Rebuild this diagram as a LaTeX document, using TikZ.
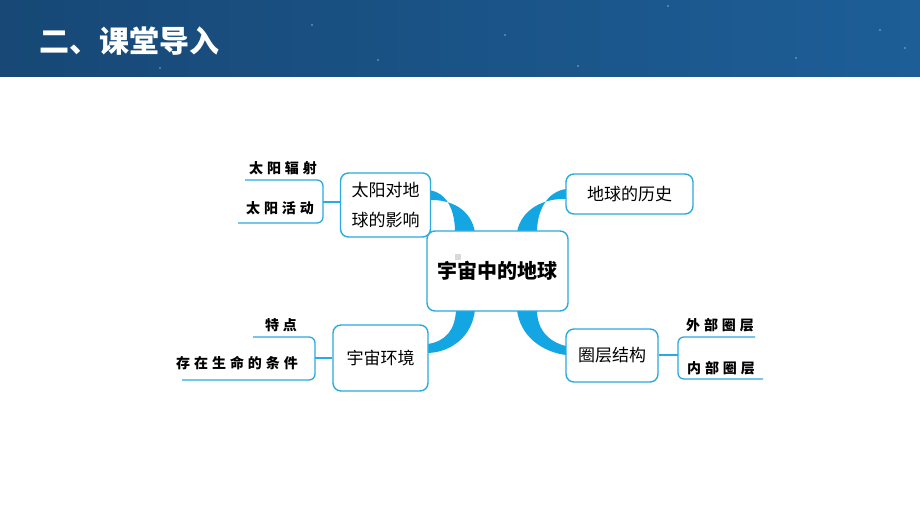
\documentclass[tikz,border=0pt]{standalone}
\usepackage{fontspec}
\newfontfamily\cjk{Noto Sans CJK SC}
\newfontfamily\leaffont[LetterSpace=28]{Noto Sans CJK SC}
\definecolor{hdrL}{HTML}{174876}
\definecolor{hdrR}{HTML}{1D5E97}
\definecolor{cyanline}{HTML}{2AAAE0}
\definecolor{cyanfill}{HTML}{14A6E2}
\begin{document}
\begin{tikzpicture}[x=1pt,y=-1pt,
  box/.style={draw=cyanline, line width=1.4pt, rounded corners=8pt, fill=white,
    inner sep=0pt, align=center, font=\cjk\fontsize{17}{30}\selectfont},
  leaf/.style={inner sep=0pt, font=\leaffont\bfseries\fontsize{14}{16}\selectfont},
  leafline/.style={draw=cyanline, line width=1.3pt, rounded corners=6pt},
  branch/.style={fill=cyanfill, draw=none}]
\useasboundingbox (0,0) rectangle (920,518);
\fill[white] (0,0) rectangle (920,518);
% header
\shade[left color=hdrL, right color=hdrR] (0,0) rectangle (920,77);
\foreach \p in {(312,25),(378,60),(668,6),(796,58),(578,66),(880,30),(905,48),(505,35),(160,68)}
  \fill[white, opacity=0.5] \p circle (0.8);
\node[anchor=west, text=white, inner sep=0pt, font=\cjk\bfseries\fontsize{30}{32}\selectfont] (title) at (39,41) {二、课堂导入};

% tapered branches
\fill[branch] (428,190) .. controls (448,192) and (455,212) .. (455,232)
  -- (475,232) .. controls (471,210) and (452,199) .. (428,200) -- cycle;
\fill[branch] (566,189) .. controls (546,192) and (537,212) .. (537,232)
  -- (517,232) .. controls (521,210) and (543,198) .. (566,199) -- cycle;
\fill[branch] (475,310) .. controls (472,336) and (452,352) .. (428,353)
  -- (428,344) .. controls (446,341) and (455,330) .. (456,310) -- cycle;
\fill[branch] (517,310) .. controls (520,336) and (542,352) .. (566,355)
  -- (566,346) .. controls (549,342) and (537,330) .. (537,310) -- cycle;

% boxes
\node[box, minimum width=141pt, minimum height=80pt, font=\cjk\bfseries\fontsize{20}{24}\selectfont] (center) at (497.5,271) {宇宙中的地球};
\fill[black!15] (455,254) rectangle (461,260);
\node[box, minimum width=90pt, minimum height=64pt] (sun) at (385.5,205) {太阳对地\\球的影响};
\node[box, minimum width=127pt, minimum height=40pt] (hist) at (629.5,194) {地球的历史};
\node[box, minimum width=95pt, minimum height=66pt] (env) at (380.5,358) {宇宙环境};
\node[box, minimum width=92pt, minimum height=53pt] (layer) at (612,355.5) {圈层结构};

% leaves: sun
\node[leaf] (l1) at (283,168) {太阳辐射};
\node[leaf] (l2) at (280,208) {太阳活动};
\coordinate (b1) at (323,202);
\draw[leafline] (245,180) -- (323,180) -- (323,223) -- (238,223);
\draw[draw=cyanline, line width=1.3pt] (b1) -- (sun.west |- b1);

% leaves: env
\node[leaf] (l3) at (281,325) {特点};
\node[leaf] (l4) at (237,363) {存在生命的条件};
\coordinate (b2) at (315,358);
\draw[leafline] (253,337) -- (315,337) -- (315,380) -- (182,380);
\draw[draw=cyanline, line width=1.3pt] (b2) -- (env.west |- b2);

% leaves: layer
\node[leaf] (l5) at (720,325) {外部圈层};
\node[leaf] (l6) at (721,368) {内部圈层};
\coordinate (b3) at (678,355);
\draw[leafline] (755,337) -- (678,337) -- (678,379) -- (763,379);
\draw[draw=cyanline, line width=1.3pt] (layer.east |- b3) -- (b3);
\end{tikzpicture}
\end{document}
